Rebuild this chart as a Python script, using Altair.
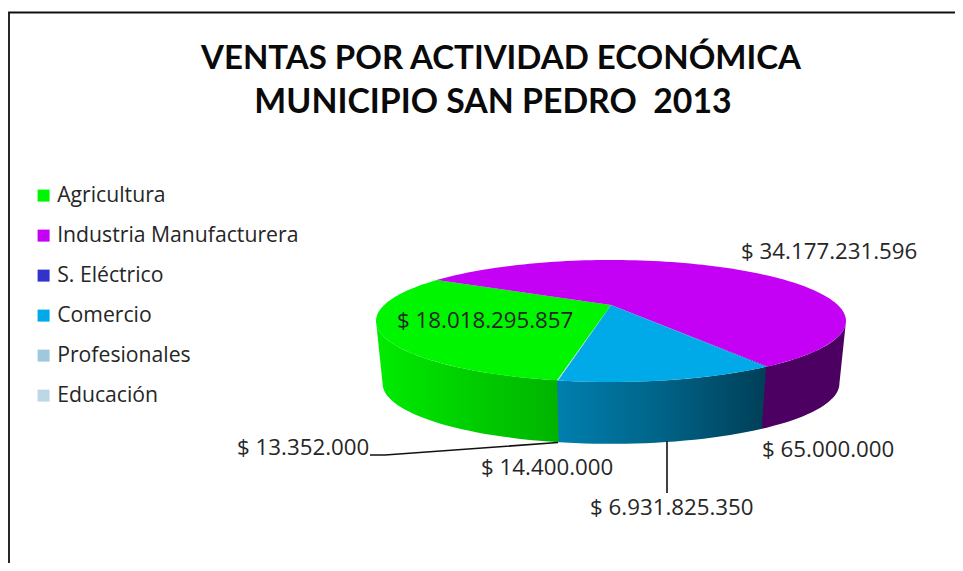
import math
import altair as alt
import pandas as pd

categories = ["Agricultura", "Industria Manufacturera", "S. Eléctrico", "Comercio", "Profesionales", "Educación"]
values = [18018295857, 34177231596, 65000000, 6931825350, 14400000, 13352000]
top_colors = ["#00F500", "#C400F5", "#3333CC", "#00A9E8", "#A0C8DC", "#BCD8E4"]
title_lines = ["VENTAS POR ACTIVIDAD ECONÓMICA", "MUNICIPIO SAN PEDRO \u00a02013"]

W, H = 947, 555
XS = alt.Scale(domain=[8, 8 + W], range=[0, W])
YS = alt.Scale(domain=[8, 8 + H], range=[0, H])
X = lambda f="x": alt.X(f"{f}:Q", scale=XS, axis=None)
Y = lambda f="y": alt.Y(f"{f}:Q", scale=YS, axis=None)

# perspective pie geometry
CX, APEX_Y, K, A, C = 611.0, 305.0, -0.262, 56.8, 226.8
START = 190.15


def top_pt(deg):
    t = math.radians(deg)
    u, v = math.sin(t), -math.cos(t)
    d = 1 + K * v
    return CX + C * u / d, APEX_Y + A * v / d


def bottom_pt(deg):
    x, y = top_pt(deg)
    return CX + (x - CX) * 0.972, 321 + (y - 321) * 0.99 + 62.5


total = sum(values)
spans = []
a = START
for val in values:
    b = a + val / total * 360
    spans.append((a, b))
    a = b

top_rows = []
for cat, (a0, a1) in zip(categories, spans):
    n = max(2, int((a1 - a0) / 2) + 2)
    pts = [(CX, APEX_Y)] + [top_pt(a0 + (a1 - a0) * i / (n - 1)) for i in range(n)] + [(CX, APEX_Y)]
    for i, (x, y) in enumerate(pts):
        top_rows.append({"cat": cat, "x": x, "y": y, "i": i})
top_df = pd.DataFrame(top_rows)


def side_layer(a0, a1, stops):
    lo, hi = max(a0, 105.2), min(a1, 254.8)
    n = max(2, int((hi - lo) / 2) + 2)
    angs = [lo + (hi - lo) * i / (n - 1) for i in range(n)]
    pts = [top_pt(t) for t in angs] + [bottom_pt(t) for t in reversed(angs)]
    pts.append(pts[0])
    df = pd.DataFrame([{"x": x, "y": y, "i": i} for i, (x, y) in enumerate(pts)])
    grad = alt.Gradient(gradient="linear", x1=0, x2=1, y1=0, y2=0,
                        stops=[alt.GradientStop(color=c, offset=o) for o, c in stops])
    return alt.Chart(df).mark_line(fill=grad, stroke="transparent", strokeWidth=0, interpolate="linear").encode(
        x=X(), y=Y(), order="i:Q")


green = side_layer(spans[0][0], spans[0][1], [(0, "#00EC00"), (0.55, "#00CC00"), (1, "#00B400")])
blue = side_layer(spans[3][0] - 360, spans[3][1] - 359, [(0, "#0080B0"), (0.5, "#006488"), (1, "#003F58")])
purple = side_layer(0, spans[1][1] - 359, [(0, "#4B0062"), (1, "#4B0062")])

legend = alt.Legend(orient="none", legendX=25, legendY=177, title=None, symbolType="square", symbolSize=144,
                    symbolStrokeWidth=0, labelFont="Open Sans", labelFontSize=21.2, labelColor="#262626",
                    rowPadding=18, labelOffset=3, labelLimit=400)

tops = alt.Chart(top_df).mark_line(strokeWidth=0, stroke="transparent", interpolate="linear").encode(
    x=X(), y=Y(), order="i:Q",
    fill=alt.Fill("cat:N", sort=categories, scale=alt.Scale(domain=categories, range=top_colors), legend=legend),
)


def money(v):
    return "$ " + f"{v:,}".replace(",", ".")


label_rows = [
    (money(values[1]), 741, 259),
    (money(values[0]), 397, 328),
    (money(values[5]), 237, 455),
    (money(values[4]), 481, 475),
    (money(values[3]), 590, 515),
    (money(values[2]), 762, 457),
]
labels_df = pd.DataFrame(label_rows, columns=["t", "x", "y"])
labels = alt.Chart(labels_df).mark_text(font="Open Sans", fontSize=22.3, align="left", baseline="alphabetic",
                                        color="#262626").encode(x=X(), y=Y(), text="t:N")


def title_layer(text, x, y, size):
    df = pd.DataFrame({"t": [text], "x": [x], "y": [y]})
    return alt.Chart(df).mark_text(font="Lato", fontWeight="bold", fontSize=size, align="center",
                                   baseline="alphabetic", color="#0a0a0a").encode(x=X(), y=Y(), text="t:N")


title1 = title_layer(title_lines[0], 501, 69, 33)
title2 = title_layer(title_lines[1], 493, 113, 33.8)

lead_df = pd.DataFrame([
    {"g": 0, "i": 0, "x": 370, "y": 455}, {"g": 0, "i": 1, "x": 385, "y": 455}, {"g": 0, "i": 2, "x": 558, "y": 442.5},
    {"g": 1, "i": 0, "x": 667, "y": 441}, {"g": 1, "i": 1, "x": 667, "y": 493},
])
leads = alt.Chart(lead_df).mark_line(color="#111111", strokeWidth=1.6).encode(x=X(), y=Y(), detail="g:N", order="i:Q")

frame_df = pd.DataFrame([{"i": 0, "x": 9, "y": 8 + H}, {"i": 1, "x": 9, "y": 12.5}, {"i": 2, "x": 8 + W, "y": 12.5}])
frame = alt.Chart(frame_df).mark_line(color="#111111", strokeWidth=1.8).encode(x=X(), y=Y(), order="i:Q")

chart = alt.layer(frame, purple, blue, green, leads, tops, labels, title1, title2).properties(
    width=W, height=H, padding=0, background="white", autosize=alt.AutoSizeParams(type="none")
).configure_view(stroke=None)

chart.save("out.html", embed_options={"renderer": "svg", "actions": False})
